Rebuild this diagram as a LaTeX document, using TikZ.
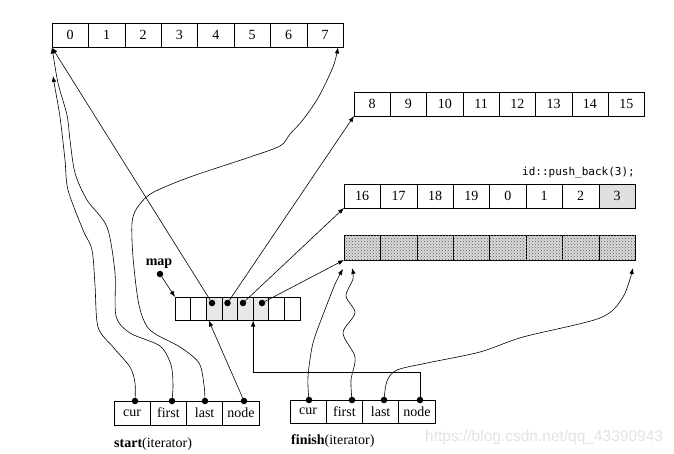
\documentclass[tikz,border=0pt]{standalone}
\usepackage{fontspec}
\setmainfont{Liberation Serif}
\newfontfamily\monof{DejaVu Sans Mono}
\newfontfamily\wmfont{Liberation Sans}
\usetikzlibrary{arrows.meta,patterns,calc}
\begin{document}
\begin{tikzpicture}[x=1pt,y=-1pt,
  cell/.style={draw, line width=0.6pt, inner sep=0, outer sep=0, anchor=north west, font=\fontsize{14}{16}\selectfont},
  dotn/.style={circle, fill, inner sep=0, minimum size=6.5pt},
  arr/.style={line width=0.6pt, -{Latex[length=6pt,width=4.5pt]}},
  lbl/.style={inner sep=0, font=\fontsize{14}{16}\selectfont}]
\useasboundingbox[fill=white] (0,0) rectangle (674,453);

% array 0..7
\foreach \i in {0,...,7} {
  \node[cell, minimum width=36.4, minimum height=24.5] (a\i) at ({52+36.4*\i},23) {\i};
}
% array 8..15
\foreach \i in {0,...,7} {
  \pgfmathtruncatemacro\v{\i+8}
  \node[cell, minimum width=36.3, minimum height=24] (b\i) at ({354+36.3*\i},92) {\v};
}
% array 16..3
\foreach \v [count=\i from 0] in {16,17,18,19,0,1,2} {
  \node[cell, minimum width=36.4, minimum height=24] (c\i) at ({344+36.4*\i},184) {\v};
}
\node[cell, minimum width=36.4, minimum height=24, fill=gray!25] (c7) at ({344+36.4*7},184) {3};
\node[inner sep=0, anchor=east, font=\monof\fontsize{11}{13}\selectfont] (pb) at (635,173) {id::push\_back(3);};
% hatched array
\foreach \i in {0,...,7} {
  \node[cell, minimum width=36.4, minimum height=25, fill=gray!30,
        postaction={pattern=crosshatch dots, pattern color=gray!75!black}] (d\i) at ({344+36.4*\i},235) {};
}
% map
\foreach \i in {0,1,6,7} {
  \node[cell, minimum width=15.625, minimum height=23.5] (m\i) at ({175+15.625*\i},297) {};
}
\foreach \i in {2,...,5} {
  \node[cell, minimum width=15.625, minimum height=23.5, fill=gray!18] (m\i) at ({175+15.625*\i},297) {};
}
\node[lbl, font=\bfseries\fontsize{14}{16}\selectfont] (maplbl) at (159,264) {map};
\node[dotn] (mapdot) at (160,274) {};
\draw[arr] (mapdot) -- (m0.north west);

\node[dotn] (p1) at (212,303) {};
\node[dotn] (p2) at (227.5,303) {};
\node[dotn] (p3) at (243,303) {};
\node[dotn] (p4) at (262,303) {};
\draw[arr] (p1) -- (a0.south west);
\draw[arr] (p2) -- (b0.south west);
\draw[arr] (p3) -- (c0.south west);
\draw[arr] (p4) -- (d0.south west);

% start iterator
\foreach \t [count=\i from 0] in {cur,first,last,node} {
  \node[cell, minimum width=36.25, minimum height=24] (s\i) at ({114+36.25*\i},401) {\t};
}
\node[lbl, anchor=west] (slbl) at (114,444) {\textbf{start}(iterator)};
\node[dotn] (sd0) at (135,401) {};
\node[dotn] (sd1) at (172,401) {};
\node[dotn] (sd2) at (205,401) {};
\node[dotn] (sd3) at (244,401) {};

% finish iterator
\foreach \t [count=\i from 0] in {cur,first,last,node} {
  \node[cell, minimum width=36.25, minimum height=23.5] (f\i) at ({290+36.25*\i},400) {\t};
}
\node[lbl, anchor=west] (flbl) at (291,441) {\textbf{finish}(iterator)};
\node[dotn] (fd0) at (309,400) {};
\node[dotn] (fd1) at (352,400) {};
\node[dotn] (fd2) at (384,400) {};
\node[dotn] (fd3) at (420,400) {};

% start connectors
\coordinate (a0cur) at (53,76);
\draw[arr] plot[smooth] coordinates {(sd0.center) (135,383) (130,367) (113,347) (98,327) (95,285) (92,250) (83,230) (68,190) (65,160) (60,117) (55,88) (a0cur)};
\draw[arr] plot[smooth] coordinates {(sd1.center) (173,385) (171,365) (160,346) (130,333) (116,316) (115,273) (107,227) (87,200) (75,173) (70,140) (67,115) (58,83) (a0.south west)};
\coordinate (a7last) at (338,47.5);
\draw[arr] plot[smooth] coordinates {(sd2.center) (204,385) (199,363) (180,347) (150,330) (139,305) (133,257) (132,223) (137,208) (152,193) (190,177) (247,158) (280,146) (290,134) (302,121) (318,98) (333,67) (a7last)};
\coordinate (m2in) at ($(m2.south west)+(2.5,0)$);
\draw[arr] (sd3) -- (m2in);

% finish connectors
\coordinate (d0cur) at (343,269);
\coordinate (d0first) at (352,268);
\coordinate (d7last) at (633,268);
\draw[arr] plot[smooth] coordinates {(fd0.center) (308,377) (313,343) (326,307) (336,282) (d0cur)};
\draw[arr] plot[smooth] coordinates {(fd1.center) (351,380) (355,357) (343,333) (355,313) (346,296) (353,279) (d0first)};
\draw[arr] plot[smooth] coordinates {(fd2.center) (387,381) (397,370) (427,363) (480,352) (523,337) (600,318) (623,297) (d7last)};
\coordinate (fturn) at ($(m5.south west)+(0,52)$);
\draw[arr] (fd3) |- (fturn) -- (m5.south west);

% watermark
\node[inner sep=0, anchor=west, text=gray!22, font=\wmfont\fontsize{15.5}{18}\selectfont] (wm) at (425,437) {https://blog.csdn.net/qq\_43390943};
\end{tikzpicture}
\end{document}
